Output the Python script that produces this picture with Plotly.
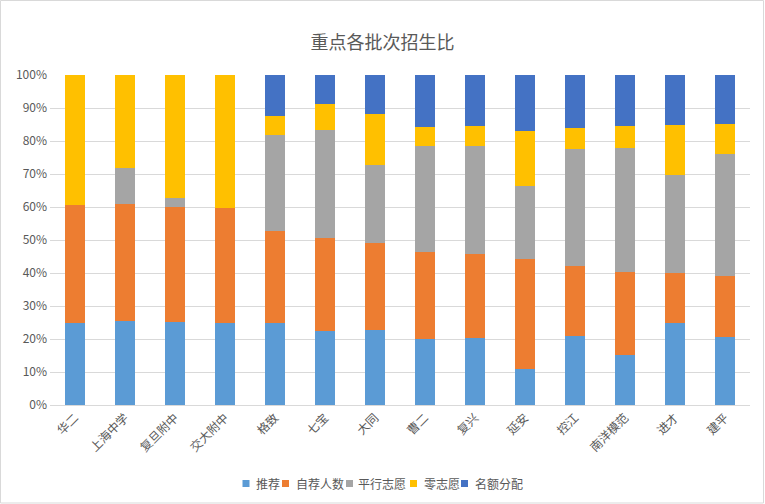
import plotly.graph_objects as go

schools = ["华二", "上海中学", "复旦附中", "交大附中", "格致", "七宝", "大同", "曹二", "复兴", "延安", "控江", "南洋模范", "进才", "建平"]
tuijian = [24.7, 25.5, 25.3, 24.8, 24.7, 22.4, 22.8, 20.0, 20.4, 10.9, 21.0, 15.2, 24.8, 20.6]
zijian = [35.9, 35.4, 34.7, 35.0, 28.0, 28.3, 26.3, 26.5, 25.5, 33.3, 21.2, 25.2, 15.2, 18.6]
pingxing = [0, 11.0, 2.8, 0, 29.1, 32.7, 23.6, 32.1, 32.7, 22.3, 35.4, 37.6, 29.7, 37.0]
lingzhiyuan = [39.4, 28.1, 37.2, 40.2, 5.9, 7.9, 15.6, 5.7, 6.0, 16.5, 6.4, 6.6, 15.1, 9.1]
minge = [0, 0, 0, 0, 12.3, 8.7, 11.7, 15.7, 15.4, 17.0, 16.0, 15.4, 15.2, 14.7]

series_names = ["推荐", "自荐人数", "平行志愿", "零志愿", "名额分配"]
series_values = [tuijian, zijian, pingxing, lingzhiyuan, minge]
series_colors = ["#5b9bd5", "#ed7d31", "#a5a5a5", "#ffc000", "#4472c4"]

W, H = 765, 504
L, R, T, B = 50, 15, 75, 99
PW, PH = W - L - R, H - T - B

def px_x(p):
    return (p - L) / PW

def px_y(p):
    return (H - B - p) / PH

fig = go.Figure()
for name, vals, color in zip(series_names, series_values, series_colors):
    fig.add_trace(go.Bar(x=schools, y=vals, name=name, marker=dict(color=color, line=dict(width=0)),
                         hoverinfo="skip", showlegend=False))

font_family = "Noto Sans CJK SC, Microsoft YaHei, sans-serif"
fig.update_layout(
    width=W, height=H,
    barmode="stack", barnorm="percent", bargap=0.6,
    paper_bgcolor="white", plot_bgcolor="white",
    margin=dict(l=L, r=R, t=T, b=B, autoexpand=False),
    font=dict(family=font_family, color="#595959", size=12),
    title=dict(text="重点各批次招生比", x=0.5, xanchor="center", y=1 - 43 / H, yanchor="middle",
               font=dict(size=18, color="#595959", family=font_family)),
    showlegend=False,
)
fig.update_xaxes(tickangle=-45, showgrid=False, showline=True, linecolor="#d9d9d9", linewidth=1,
                 ticks="", automargin=False, tickfont=dict(size=12, color="#595959"))
fig.update_yaxes(range=[0, 100], dtick=10, ticksuffix="%", showgrid=True, gridcolor="#d9d9d9",
                 gridwidth=1, zeroline=False, showline=False, ticks="", automargin=False,
                 ticklabelstandoff=2,
                 tickfont=dict(size=12, color="#595959"))

# outer chart border
fig.add_shape(type="rect", xref="paper", yref="paper",
              x0=px_x(0.5), x1=px_x(763.5), y0=px_y(503), y1=px_y(0.5),
              line=dict(color="#d9d9d9", width=1), fillcolor="rgba(0,0,0,0)", layer="below")

# manual legend (compact like the reference)
sq_left = [242.5, 282, 346, 410, 461]
text_left = [254, 294, 356, 422, 473]
ly = 483.5
for name, color, sx, tx in zip(series_names, series_colors, sq_left, text_left):
    fig.add_shape(type="rect", xref="paper", yref="paper",
                  x0=px_x(sx), x1=px_x(sx + 7), y0=px_y(ly + 3.5), y1=px_y(ly - 3.5),
                  line=dict(width=0), fillcolor=color)
    fig.add_annotation(text=name, xref="paper", yref="paper", x=px_x(tx), y=px_y(ly),
                       xanchor="left", yanchor="middle", showarrow=False,
                       font=dict(size=12, color="#595959", family=font_family))

fig.write_html("out.html", config={"displayModeBar": False, "staticPlot": True},
               post_script="document.body.style.margin='0px';document.body.style.overflow='hidden';")
